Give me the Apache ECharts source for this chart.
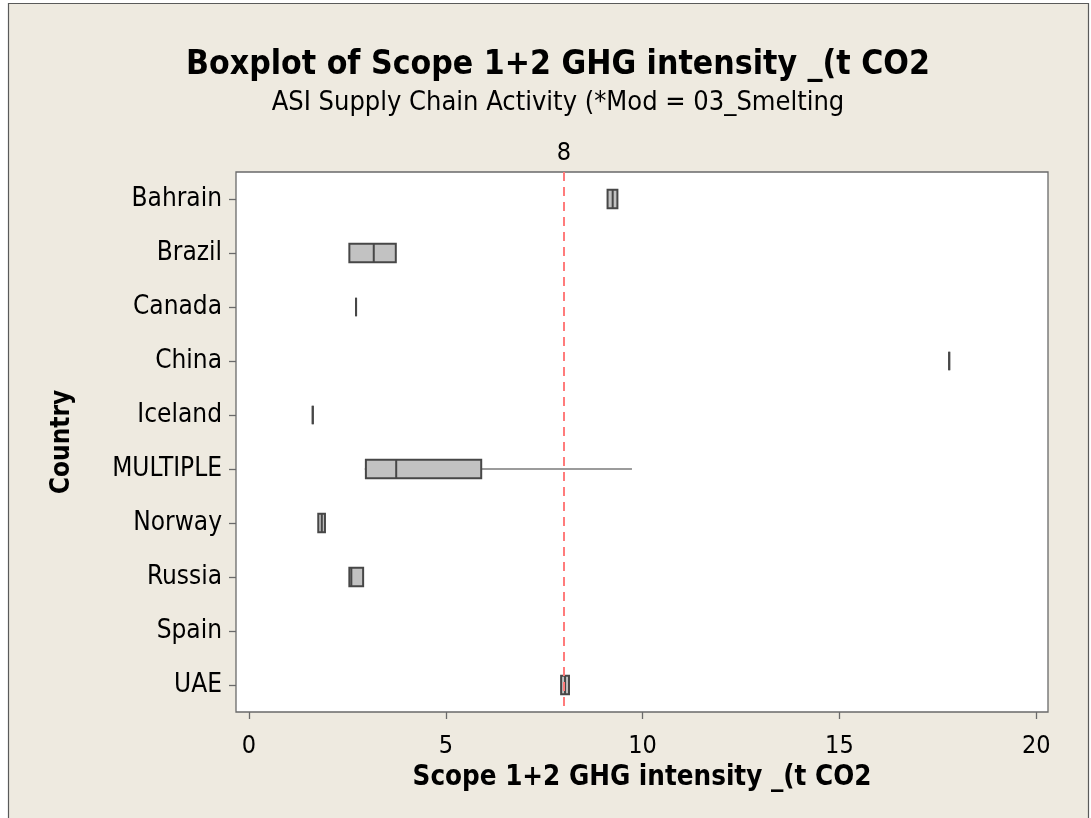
<!DOCTYPE html>
<html>
<head>
<meta charset="utf-8">
<script src="https://cdn.jsdelivr.net/npm/echarts@6/dist/echarts.min.js"></script>
<style>
  html, body { margin: 0; padding: 0; background: #ffffff; }
  #chart { width: 1091px; height: 818px; }
</style>
</head>
<body>
<div id="chart"></div>
<script>
// Countries (top to bottom) and five-number summaries of GHG intensity
const categories = ['Bahrain', 'Brazil', 'Canada', 'China', 'Iceland', 'MULTIPLE', 'Norway', 'Russia', 'Spain', 'UAE'];
const minValues    = [9.11, 2.55, 2.72, 17.79, 1.62, 2.94, 1.76, 2.55, null, 7.93];
const q1Values     = [9.11, 2.55, 2.72, 17.79, 1.62, 2.97, 1.76, 2.55, null, 7.93];
const medianValues = [9.24, 3.17, 2.72, 17.79, 1.62, 3.74, 1.85, 2.60, null, 8.03];
const q3Values     = [9.36, 3.73, 2.72, 17.79, 1.62, 5.90, 1.93, 2.90, null, 8.13];
const maxValues    = [9.36, 3.73, 2.72, 17.79, 1.62, 9.73, 1.93, 2.90, null, 8.13];
const xTickValues  = [0, 5, 10, 15, 20];
const referenceValue = 8;

const FONT = '"DejaVu Sans Condensed", "DejaVu Sans", sans-serif';

const boxData = categories.map((c, i) =>
  minValues[i] == null ? null : [i, minValues[i], q1Values[i], medianValues[i], q3Values[i], maxValues[i]]
).filter(d => d);

// Box with whiskers (no end caps) and a median bar, positioned via the axes
function renderBox(params, api) {
  const cat = api.value(0);
  const lo = api.coord([api.value(1), cat]);
  const q1 = api.coord([api.value(2), cat]);
  const md = api.coord([api.value(3), cat]);
  const q3 = api.coord([api.value(4), cat]);
  const hi = api.coord([api.value(5), cat]);
  const h = api.size([0, 1])[1] * 0.34;
  const y = md[1];
  const children = [];
  if (lo[0] < q1[0]) {
    children.push({ type: 'line', shape: { x1: lo[0], y1: y, x2: q1[0], y2: y },
      style: { stroke: '#7a7a7a', lineWidth: 1.6 } });
  }
  if (hi[0] > q3[0]) {
    children.push({ type: 'line', shape: { x1: q3[0], y1: y, x2: hi[0], y2: y },
      style: { stroke: '#7a7a7a', lineWidth: 1.6 } });
  }
  children.push({ type: 'rect', shape: { x: q1[0], y: y - h / 2, width: q3[0] - q1[0], height: h },
    style: { fill: '#c2c2c2', stroke: '#474747', lineWidth: 2 } });
  children.push({ type: 'line', shape: { x1: md[0], y1: y - h / 2, x2: md[0], y2: y + h / 2 },
    style: { stroke: '#474747', lineWidth: 2 } });
  return { type: 'group', children };
}

const chart = echarts.init(document.getElementById('chart'), null, { renderer: 'canvas' });
chart.setOption({
  backgroundColor: '#ffffff',
  animation: false,
  graphic: [{
    type: 'rect', z: -10, silent: true,
    shape: { x: 8.5, y: 3.5, width: 1080, height: 830 },
    style: { fill: '#eeeae0', stroke: '#5a5a5a', lineWidth: 1.2 }
  }],
  title: {
    text: 'Boxplot of Scope 1+2 GHG intensity _(t CO2',
    subtext: 'ASI Supply Chain Activity (*Mod = 03_Smelting',
    left: 553, top: 43, textAlign: 'center', itemGap: 7,
    textStyle: { fontFamily: FONT, fontWeight: 'bold', fontSize: 33.5, color: '#000' },
    subtextStyle: { fontFamily: FONT, fontSize: 27, color: '#000' }
  },
  grid: { left: 236, right: 43, top: 172, bottom: 106, show: true,
    backgroundColor: '#ffffff', borderColor: '#6a6a6a', borderWidth: 1.3 },
  xAxis: {
    type: 'value', min: -0.33, max: 20.3,
    name: 'Scope 1+2 GHG intensity _(t CO2', nameLocation: 'middle', nameGap: 52,
    nameTextStyle: { fontFamily: FONT, fontWeight: 'bold', fontSize: 27.5, color: '#000' },
    axisLine: { show: false, onZero: false },
    axisTick: { show: true, length: 7, customValues: xTickValues, lineStyle: { color: '#6a6a6a', width: 1.3 } },
    axisLabel: { customValues: xTickValues, fontFamily: FONT, fontSize: 25, color: '#000', margin: 22 },
    splitLine: { show: false }
  },
  yAxis: {
    type: 'category', data: categories, inverse: true,
    name: 'Country', nameLocation: 'middle', nameGap: 161, nameRotate: 90,
    nameTextStyle: { fontFamily: FONT, fontWeight: 'bold', fontSize: 26, color: '#000' },
    axisLine: { show: false, onZero: false },
    axisTick: { show: true, alignWithLabel: true, length: 7, lineStyle: { color: '#6a6a6a', width: 1.3 } },
    axisLabel: { fontFamily: FONT, fontSize: 26, color: '#000', margin: 14 },
    splitLine: { show: false }
  },
  series: [
    {
      type: 'custom', name: 'box', renderItem: renderBox,
      encode: { x: [1, 2, 3, 4, 5], y: 0 }, data: boxData, z: 3
    },
    {
      type: 'line', name: 'ref', data: [], z: 2,
      markLine: {
        symbol: 'none', silent: true,
        lineStyle: { color: '#ff7b7b', type: [9, 6], width: 2 },
        label: { show: true, position: 'start', formatter: String(referenceValue),
          fontFamily: FONT, fontSize: 25, color: '#000', distance: 6 },
        data: [{ xAxis: referenceValue }]
      }
    }
  ]
});
</script>
</body>
</html>
